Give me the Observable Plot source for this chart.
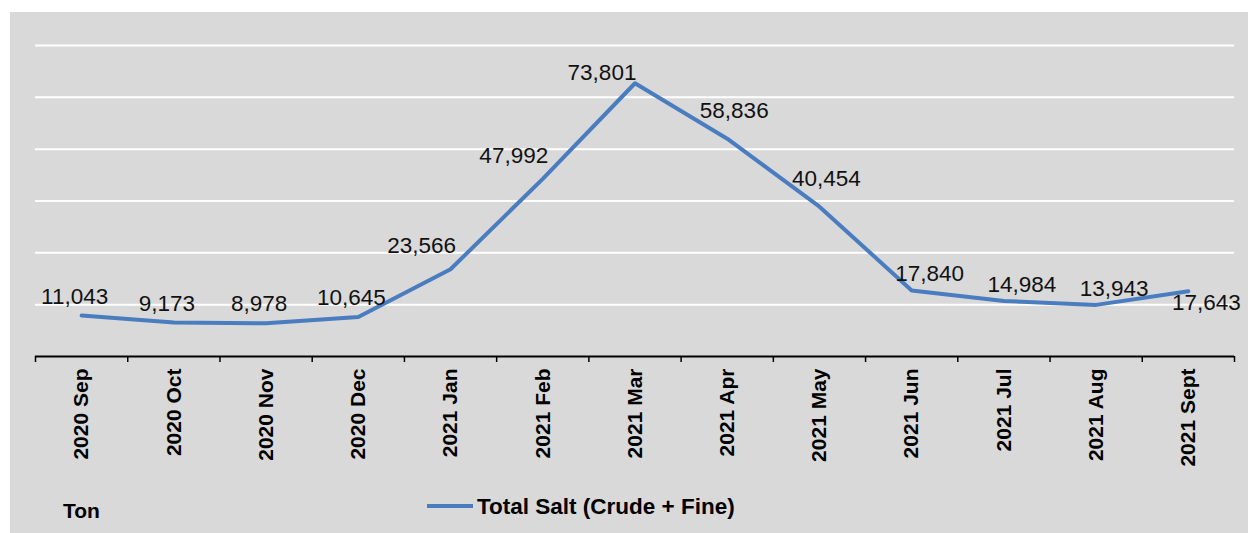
<!DOCTYPE html>
<html>
<head>
<meta charset="utf-8">
<script src="https://cdn.jsdelivr.net/npm/d3@7"></script>
<script src="https://cdn.jsdelivr.net/npm/@observablehq/plot@0.6"></script>
<style>
  html, body { margin: 0; padding: 0; background: #fff; }
  body { width: 1256px; height: 533px; overflow: hidden; position: relative;
         font-family: "Liberation Sans", Arial, sans-serif; color: #000; }
  #panel { position: absolute; left: 10px; top: 12px; width: 1238px; height: 521px; background: #d9d9d9; }
  #chart { position: absolute; left: 0; top: 0; }
  #unit { position: absolute; left: 53px; top: 488px; font-size: 21px; line-height: 21px; font-weight: bold; }
  #legend-swatch { position: absolute; left: 417px; top: 492px; width: 46px; height: 4px; background: #4a7cc0; }
  #legend-text { position: absolute; left: 467px; top: 484px; font-size: 22.5px; line-height: 22px; font-weight: bold; white-space: nowrap; }
</style>
</head>
<body>
<div id="panel">
  <div id="chart"></div>
  <div id="unit"></div>
  <div id="legend-swatch"></div>
  <div id="legend-text"></div>
</div>
<script>
const months = ["2020 Sep","2020 Oct","2020 Nov","2020 Dec","2021 Jan","2021 Feb","2021 Mar","2021 Apr","2021 May","2021 Jun","2021 Jul","2021 Aug","2021 Sept"];
const totalSalt = [11043, 9173, 8978, 10645, 23566, 47992, 73801, 58836, 40454, 17840, 14984, 13943, 17643];
const gridTicks = [0, 14000, 28000, 42000, 56000, 70000, 84000];
const seriesName = "Total Salt (Crude + Fine)";
const unitLabel = "Ton";

document.getElementById("unit").textContent = unitLabel;
document.getElementById("legend-text").textContent = seriesName;

const data = months.map((m, i) => ({i, month: m, value: totalSalt[i]}));
const peak = d3.maxIndex(totalSalt);

// label placement derived from the shape of the series
function placement(i) {
  const v = totalSalt;
  if (i === v.length - 1) return "last";
  if (i === peak) return "peak";
  const dPrev = i > 0 ? v[i] - v[i - 1] : 0;
  const dNext = v[i + 1] - v[i];
  if (dPrev > 5000) return "rising";
  if (dPrev < -5000 && dNext < -5000) return "falling";
  if (i > peak) return "tail";
  return "flat";
}
data.forEach(d => d.place = placement(d.i));
const offsets = {flat: [-7, -12], rising: [-29, -16], peak: [-33, -3], falling: [7, -21], tail: [18, -9], last: [18, 19]};
const fmt = d3.format(",");

const labelMarks = Object.entries(offsets).map(([k, [dx, dy]]) =>
  Plot.text(data.filter(d => d.place === k), {
    x: "i", y: "value", text: d => fmt(d.value),
    dx, dy, lineAnchor: "bottom", textAnchor: "middle",
    fontSize: 22.5, fill: "#111"
  })
);

const boundaries = d3.range(-0.5, months.length);

const chart = Plot.plot({
  width: 1238, height: 464,
  marginLeft: 25, marginRight: 14, marginTop: 33, marginBottom: 120,
  style: {background: "transparent", fontFamily: "Liberation Sans, Arial, sans-serif", color: "#000", overflow: "visible"},
  x: {type: "linear", domain: [-0.5, months.length - 0.5], axis: null, label: null},
  y: {domain: [0, 84000], axis: null, label: null},
  marks: [
    Plot.ruleY(gridTicks.slice(1), {stroke: "#fff", strokeWidth: 2}),
    Plot.line(data, {x: "i", y: "value", stroke: "#4a7cc0", strokeWidth: 4, strokeLinejoin: "round"}),
    Plot.ruleY([0], {stroke: "#000", strokeWidth: 2}),
    Plot.axisX(boundaries, {tickSize: 6, tickFormat: () => "", stroke: "#000", strokeWidth: 1.5, label: null}),
    Plot.axisX(data.map(d => d.i), {tickSize: 0, tickPadding: 12, tickRotate: -90, tickFormat: i => months[i],
      fontSize: 21, fontWeight: "bold", fill: "#000", label: null}),
    ...labelMarks
  ]
});
document.getElementById("chart").appendChild(chart);
</script>
</body>
</html>
